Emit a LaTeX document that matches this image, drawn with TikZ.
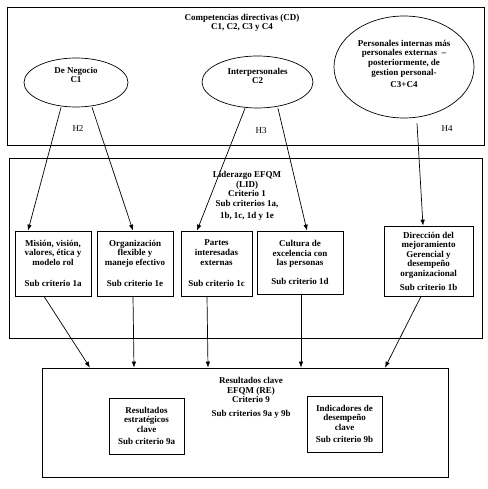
\documentclass[tikz,border=0pt]{standalone}
\usepackage{fontspec}
\setmainfont{Liberation Serif}
\usetikzlibrary{arrows.meta,positioning,shapes.geometric}

\begin{document}
\begin{tikzpicture}[x=1pt,y=-1pt,line width=.7pt,
	area/.style={draw,rectangle,inner sep=0pt},
	caja/.style={draw,rectangle,align=center,inner sep=0pt,font=\bfseries\fontsize{9}{9.6}\selectfont},
	competencia/.style={draw,ellipse,inner sep=0pt},
	titulo/.style={align=center,inner sep=0pt,font=\bfseries\fontsize{9}{9.6}\selectfont},
	hipotesis/.style={inner sep=0pt,font=\fontsize{9}{9.6}\selectfont},
	flecha/.style={-{Latex[length=6pt,width=4.5pt]}}]

\useasboundingbox (0,0) rectangle (487,489);

%-------------------------------------------------------------------------------
% Competencias directivas
%-------------------------------------------------------------------------------
\node (cd) [area,minimum width=477pt,minimum height=138pt] at (245.5,76) {};
\node (cdtitulo) [titulo] at (242,23) {Competencias directivas (CD)\\C1, C2, C3 y C4};

\node (neg) [competencia,minimum width=104pt,minimum height=49pt] at (76,82.5) {};
\node (negtexto) [titulo] at (76,75) {De Negocio\\C1};
\node (inter) [competencia,minimum width=111pt,minimum height=52pt] at (257.5,82) {};
\node (intertexto) [titulo] at (257.5,76) {Interpersonales\\C2};
\node (pers) [competencia,minimum width=140pt,minimum height=102pt] at (404,67) {};
\node (perstexto) [titulo] at (404,64) {Personales internas más\\personales externas \ --\\posteriormente, de\\gestion personal-\\[3pt]C3+C4};

\node (h2) [hipotesis] at (78,129) {H2};
\node (h3) [hipotesis] at (261,131) {H3};
\node (h4) [hipotesis] at (447,129) {H4};

%-------------------------------------------------------------------------------
% Liderazgo EFQM
%-------------------------------------------------------------------------------
\node (lid) [area,minimum width=473pt,minimum height=180pt] at (245.5,248) {};
\node (lidtitulo) [titulo] at (247,196) {Liderazgo EFQM\\(LID)\\Criterio 1\\Sub criterios 1a,\\[3pt]1b, 1c, 1d y 1e};

\node (mis) [caja,minimum width=76pt,minimum height=65pt] at (53,263.5)
	{Misión, visión,\\valores, ética y\\modelo rol\\[12pt]Sub criterio 1a};
\node (org) [caja,minimum width=76pt,minimum height=65pt] at (135,263.5)
	{Organización\\flexible y\\manejo efectivo\\[12pt]Sub criterio 1e};
\node (par) [caja,minimum width=71pt,minimum height=65pt] at (216.5,263.5)
	{Partes\\interesadas\\externas\\[12pt]Sub criterio 1c};
\node (cul) [caja,minimum width=86pt,minimum height=63pt] at (300,262.5)
	{Cultura de\\excelencia con\\las personas\\[9pt]Sub criterio 1d};
\node (dir) [caja,minimum width=89pt,minimum height=70pt] at (428.5,261)
	{Dirección del\\mejoramiento\\Gerencial y\\desempeño\\organizacional\\[4pt]Sub criterio 1b};

\draw [flecha] ([xshift=-15pt]neg.south) -- ([xshift=-25pt]mis.north);
\draw [flecha] ([xshift=16pt]neg.south) -- ([xshift=-2pt]org.north);
\draw [flecha] ([xshift=-12.5pt]inter.south) -- ([xshift=-19.5pt]par.north);
\draw [flecha] ([xshift=20.5pt]inter.south) -- ([xshift=7pt]cul.north);
\draw [flecha] ([xshift=13pt,yshift=-5pt]pers.south) -- ([xshift=-5.5pt]dir.north);

%-------------------------------------------------------------------------------
% Resultados clave EFQM
%-------------------------------------------------------------------------------
\node (re) [area,minimum width=406pt,minimum height=109pt] at (245,422.5) {};
\node (retitulo) [titulo] at (251,398) {Resultados clave\\EFQM (RE)\\Criterio 9\\[4pt]Sub criterios 9a y 9b};

\node (res) [caja,minimum width=75pt,minimum height=56pt] at (146.5,426)
	{Resultados\\estratégicos\\clave\\[3pt]Sub criterio 9a};
\node (ind) [caja,minimum width=75pt,minimum height=56pt] at (344.5,424)
	{Indicadores de\\desempeño\\clave\\[3pt]Sub criterio 9b};

\draw [flecha] ([xshift=-9pt]mis.south) -- ([xshift=-155pt]re.north);
\draw [flecha] ([xshift=-2pt]org.south) -- ([xshift=-111pt]re.north);
\draw [flecha] ([xshift=-9.5pt]par.south) -- ([xshift=-37pt]re.north);
\draw [flecha] ([xshift=1pt]cul.south) -- ([xshift=56pt]re.north);
\draw [flecha] ([xshift=-7.5pt]dir.south) -- ([xshift=140pt]re.north);
\end{tikzpicture}
\end{document}
